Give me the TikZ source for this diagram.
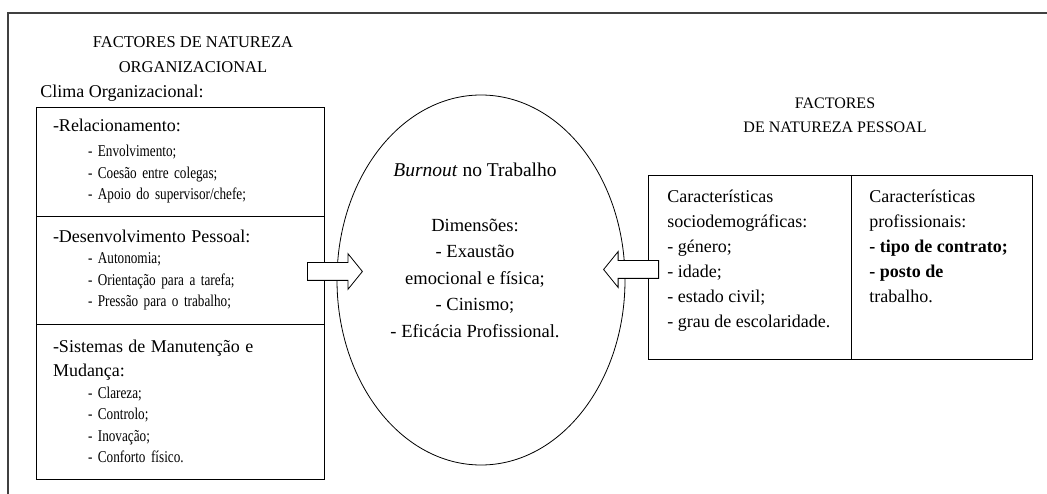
\documentclass[tikz,border=0pt]{standalone}
\usepackage{fontspec}
\setmainfont{Liberation Serif}
\newfontfamily\condfont{Liberation Serif}[FakeStretch=0.8]
\usetikzlibrary{shapes.geometric,shapes.arrows}
\newcommand{\itemind}{\hspace*{35pt}}
\newcommand{\headfont}{\rmfamily\fontsize{18}{21.5}\selectfont}

\begin{document}
\begin{tikzpicture}
			[x=1pt,y=-1pt,line width=0.8pt,
			factorbox/.style={draw,text width=254pt,inner xsep=17pt,inner ysep=0pt,align=left,font=\condfont\fontsize{16.5}{21.5}\selectfont},
			colbox/.style={draw,inner sep=0pt,minimum height=184pt},
			coltext/.style={anchor=north west,inner sep=0pt,align=left,font=\fontsize{18}{25}\selectfont},
			headtext/.style={align=center,inner sep=0pt},
			blockarrow/.style={single arrow,draw,fill=white,inner xsep=0pt,inner ysep=8.5pt,minimum height=55pt,single arrow head extend=9pt,single arrow tip angle=102,anchor=tail}]
			\useasboundingbox (0,0) rectangle (1047,494);
			\draw[line width=1.1pt,black!75] (1047,13) -| (8,494);
			
			\node[headtext,font=\fontsize{16.5}{25}\selectfont] (orghead) at (193,54.5) {FACTORES DE NATUREZA\\ORGANIZACIONAL};
			\node[anchor=west,inner sep=0pt,font=\fontsize{18}{21}\selectfont] (clima) at (40,93) {Clima Organizacional:};
			
			\node[factorbox,minimum height=109pt] (rel) at (180,161.5) {{\headfont -Relacionamento:}\\[3.5pt]
				\itemind- Envolvimento;\\ \itemind- Coesão entre colegas;\\ \itemind- Apoio do supervisor/chefe;};
			\node[factorbox,minimum height=108pt] (dev) at (180,270) {{\headfont -Desenvolvimento Pessoal:}\\
				\itemind- Autonomia;\\ \itemind- Orientação para a tarefa;\\ \itemind- Pressão para o trabalho;};
			\node[factorbox,minimum height=155pt] (sys) at (180,401.5) {{\headfont -Sistemas de Manutenção e}\\[2.5pt]
				{\headfont Mudança:}\\ \itemind- Clareza;\\ \itemind- Controlo;\\ \itemind- Inovação;\\ \itemind- Conforto físico.};
			
			\node[draw,ellipse,inner sep=0pt,minimum width=288pt,minimum height=370pt] (burnout) at (481,280) {};
			\node[headtext,font=\fontsize{18.5}{26.5}\selectfont] (dimens) at (475,250) {{\fontsize{19.5}{26.5}\selectfont\textit{Burnout} no Trabalho}\\[28.5pt]
				Dimensões:\\- Exaustão\\emocional e física;\\- Cinismo;\\- Eficácia Profissional.};
			
			\node[headtext,font=\fontsize{16}{24}\selectfont] (pesshead) at (835,115) {FACTORES\\DE NATUREZA PESSOAL};
			\node[colbox,minimum width=203pt] (socio) at (749.5,267) {};
			\node[colbox,minimum width=181pt] (prof) at (941.5,267) {};
			\node[coltext] (sociotxt) at (667,190) {Características\\sociodemográficas:\\- género;\\- idade;\\- estado civil;\\- grau de escolaridade.};
			\node[coltext] (proftxt) at (869,190) {Características\\profissionais:\\\textbf{- tipo de contrato;}\\\textbf{- posto de}\\trabalho.};
			
			\node[blockarrow] (arrorg) at (307,271.5) {};
			\node[blockarrow,shape border rotate=180] (arrpes) at (659,269.5) {};
			\end{tikzpicture}
\end{document}
